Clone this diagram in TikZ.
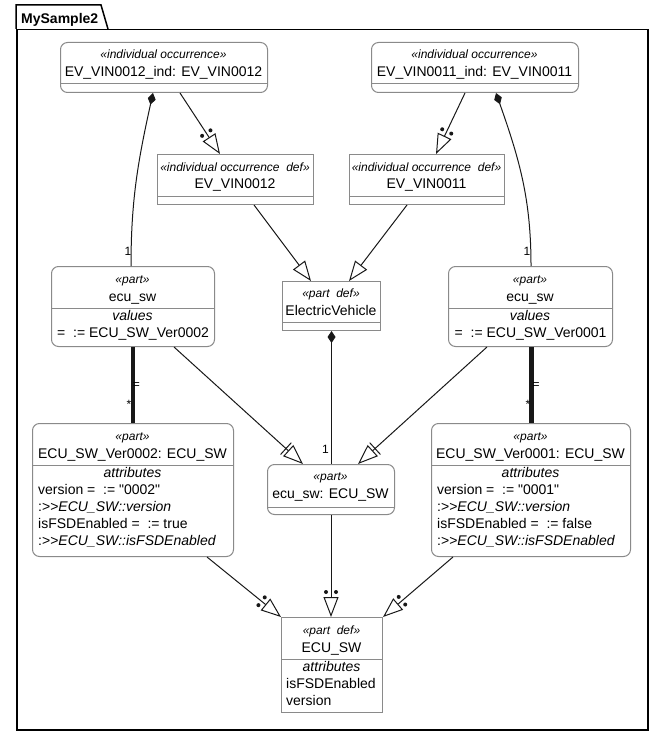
\documentclass[tikz,border=0pt]{standalone}
\usepackage{fontspec}
\newfontfamily\lsans{Liberation Sans}
\usetikzlibrary{arrows.meta,calc}
\definecolor{edgec}{HTML}{181818}
\definecolor{boxc}{HTML}{8A8A8A}
\newcommand\typeddots[2]{%
  \fill[edgec] ($(#2)!25pt!(#1)!5pt!90:(#1)$) circle (2pt);
  \fill[edgec] ($(#2)!25pt!(#1)!5pt!-90:(#1)$) circle (2pt);}
\newcommand\redefbar[2]{%
  \draw[edge] ($(#2)!23pt!(#1)!8pt!90:(#1)$) -- ($(#2)!23pt!(#1)!8pt!-90:(#1)$);}
\begin{document}
\begin{tikzpicture}[x=1pt,y=-1pt,font=\lsans,
  box/.style={draw=boxc, line width=1pt, fill=white, inner sep=0pt, anchor=north west},
  rbox/.style={box, rounded corners=7pt},
  st/.style={font=\lsans\fontsize{12}{14}\selectfont\itshape, anchor=base, inner sep=0pt},
  nm/.style={font=\lsans\fontsize{14}{17}\selectfont, anchor=base, inner sep=0pt},
  nmi/.style={nm, font=\lsans\fontsize{14}{17}\selectfont\itshape},
  ln/.style={nm, anchor=base west},
  lbl/.style={font=\lsans\fontsize{12}{14}\selectfont, anchor=base, inner sep=0pt},
  cline/.style={draw=boxc, line width=1pt},
  edge/.style={draw=edgec, line width=1pt},
  typed/.style={edge, -{Triangle[open,length=20pt,width=15pt]}},
  comp/.style={edge, {Diamond[length=12pt,width=8pt]}-},
  heavy/.style={draw=edgec, line width=4.6pt}]
\useasboundingbox (0,0) rectangle (662,735);

% package frame
\node[draw=black, line width=1.5pt, inner sep=0pt, anchor=north west,
      minimum width=631pt, minimum height=700pt] (frame) at (16,29) {};
\draw[line width=1.5pt] (frame.north west) -- ++(0,-24) -- ++(85,0) -- ++(7,24);
\node[font=\lsans\bfseries\fontsize{14}{17}\selectfont, anchor=base west, inner sep=0pt] (title) at (21,23.3) {MySample2};

% boxes
\node[rbox, minimum width=207pt, minimum height=50pt] (A) at (60,42) {};
\draw[cline] ($(A.north west)+(0,42)$) -- ($(A.north east)+(0,42)$);
\node[st] (A1) at (163.5,59) {«individual occurrence»};
\node[nm] (A2) at (163.5,77) {EV\_VIN0012\_ind: EV\_VIN0012};

\node[rbox, minimum width=207pt, minimum height=50pt] (B) at (371,42) {};
\draw[cline] ($(B.north west)+(0,42)$) -- ($(B.north east)+(0,42)$);
\node[st] (B1) at (474.5,59) {«individual occurrence»};
\node[nm] (B2) at (474.5,77) {EV\_VIN0011\_ind: EV\_VIN0011};

\node[box, minimum width=156pt, minimum height=50pt] (C) at (157,154) {};
\draw[cline] ($(C.north west)+(0,43)$) -- ($(C.north east)+(0,43)$);
\node[st] (C1) at (235,171.5) {«individual occurrence\ \ def»};
\node[nm] (C2) at (235,189) {EV\_VIN0012};

\node[box, minimum width=155pt, minimum height=50pt] (D) at (349,154) {};
\draw[cline] ($(D.north west)+(0,43)$) -- ($(D.north east)+(0,43)$);
\node[st] (D1) at (426.5,171.5) {«individual occurrence\ \ def»};
\node[nm] (D2) at (426.5,189) {EV\_VIN0011};

\node[rbox, minimum width=163pt, minimum height=80pt] (E) at (51,266) {};
\draw[cline] ($(E.north west)+(0,42)$) -- ($(E.north east)+(0,42)$);
\node[st] (E1) at (132.5,283) {«part»};
\node[nm] (E2) at (132.5,301) {ecu\_sw};
\node[nmi] (E3) at (132.5,320.5) {values};
\node[ln] (E4) at (57,337.5) {=\ \ := ECU\_SW\_Ver0002};

\node[box, minimum width=98pt, minimum height=49pt] (F) at (282,281) {};
\draw[cline] ($(F.north west)+(0,41)$) -- ($(F.north east)+(0,41)$);
\node[st] (F1) at (331,297) {«part\ \ def»};
\node[nm] (F2) at (331,315) {ElectricVehicle};

\node[rbox, minimum width=164pt, minimum height=80pt] (G) at (448,266) {};
\draw[cline] ($(G.north west)+(0,42)$) -- ($(G.north east)+(0,42)$);
\node[st] (G1) at (530,283) {«part»};
\node[nm] (G2) at (530,301) {ecu\_sw};
\node[nmi] (G3) at (530,320.5) {values};
\node[ln] (G4) at (454.5,337.5) {=\ \ := ECU\_SW\_Ver0001};

\node[rbox, minimum width=201pt, minimum height=133pt] (H) at (32,423) {};
\draw[cline] ($(H.north west)+(0,42)$) -- ($(H.north east)+(0,42)$);
\node[st] (H1) at (132.5,440) {«part»};
\node[nm] (H2) at (132.5,458) {ECU\_SW\_Ver0002: ECU\_SW};
\node[nmi] (H3) at (132.5,477.5) {attributes};
\node[ln] (H4) at (38,494.5) {version =\ \ := "0002"};
\node[ln] (H5) at (38,511.5) {:>>\textit{ECU\_SW::version}};
\node[ln] (H6) at (38,528.5) {isFSDEnabled =\ \ := true};
\node[ln] (H7) at (38,545.5) {:>>\textit{ECU\_SW::isFSDEnabled}};

\node[rbox, minimum width=199pt, minimum height=133pt] (I) at (431,423) {};
\draw[cline] ($(I.north west)+(0,42)$) -- ($(I.north east)+(0,42)$);
\node[st] (I1) at (530.5,440) {«part»};
\node[nm] (I2) at (530.5,458) {ECU\_SW\_Ver0001: ECU\_SW};
\node[nmi] (I3) at (530.5,477.5) {attributes};
\node[ln] (I4) at (437,494.5) {version =\ \ := "0001"};
\node[ln] (I5) at (437,511.5) {:>>\textit{ECU\_SW::version}};
\node[ln] (I6) at (437,528.5) {isFSDEnabled =\ \ := false};
\node[ln] (I7) at (437,545.5) {:>>\textit{ECU\_SW::isFSDEnabled}};

\node[rbox, minimum width=127pt, minimum height=50pt] (J) at (267,464) {};
\draw[cline] ($(J.north west)+(0,43)$) -- ($(J.north east)+(0,43)$);
\node[st] (J1) at (330.5,480.5) {«part»};
\node[nm] (J2) at (330.5,498.5) {ecu\_sw: ECU\_SW};

\node[box, minimum width=101pt, minimum height=95pt] (K) at (281,617) {};
\draw[cline] ($(K.north west)+(0,42)$) -- ($(K.north east)+(0,42)$);
\node[st] (K1) at (331.5,634) {«part\ \ def»};
\node[nm] (K2) at (331.5,652.5) {ECU\_SW};
\node[nmi] (K3) at (331.5,671.5) {attributes};
\node[ln] (K4) at (286,688.5) {isFSDEnabled};
\node[ln] (K5) at (286,705.5) {version};

% connector end points
\coordinate (a1) at ($(A.south west)+(93,0)$);
\coordinate (a2) at ($(A.south west)+(120,0)$);
\coordinate (b1) at ($(B.south west)+(94,0)$);
\coordinate (b2) at ($(B.south west)+(125,0)$);
\coordinate (c0) at ($(C.north west)+(63,0)$);
\coordinate (c1) at ($(C.south west)+(97,0)$);
\coordinate (d0) at ($(D.north west)+(87,0)$);
\coordinate (d1) at ($(D.south west)+(58,0)$);
\coordinate (e0) at ($(E.north west)+(80,0)$);
\coordinate (e1) at ($(E.south west)+(123,0)$);
\coordinate (f0) at ($(F.north west)+(29,0)$);
\coordinate (f1) at ($(F.north west)+(67,0)$);
\coordinate (g0) at ($(G.north west)+(83,0)$);
\coordinate (g1) at ($(G.south west)+(39,0)$);
\coordinate (j0) at ($(J.north west)+(36,0)$);
\coordinate (j1) at ($(J.north west)+(91,0)$);
\coordinate (j2) at (F.south |- J.north);
\coordinate (h1) at ($(H.south west)+(175,0)$);
\coordinate (i1) at ($(I.south west)+(22,0)$);
\coordinate (k1) at (J.south |- K.north);
\coordinate (gs) at ($(G.south)+(1,0)$);
\coordinate (it) at ($(I.north)+(0.5,0)$);

% compositions
\draw[comp] (a1) .. controls +(-15,68) and +(0,-66) .. (e0);
\draw[comp] (b2) .. controls +(24,68) and +(0,-66) .. (g0);
\draw[comp] (F.south) -- (j2);
\node[lbl] (m1) at (128,255) {1};
\node[lbl] (m2) at (527,255) {1};
\node[lbl] (m3) at (325.5,453) {1};

% feature typing
\draw[typed] (a2) -- (c0); \typeddots{a2}{c0}
\draw[typed] (b1) -- (d0); \typeddots{b1}{d0}
\draw[typed] (h1) -- (K.north west); \typeddots{h1}{K.north west}
\draw[typed] (J.south) -- (k1); \typeddots{J.south}{k1}
\draw[typed] (i1) -- (K.north east); \typeddots{i1}{K.north east}

% specialization
\draw[typed] (c1) -- (f0);
\draw[typed] (d1) -- (f1);

% redefinition
\draw[typed] (e1) -- (j0); \redefbar{e1}{j0}
\draw[typed] (g1) -- (j1); \redefbar{g1}{j1}

% binding (heavy)
\draw[heavy] (E.south) -- (H.north);
\draw[heavy] (gs) -- (it);
\node[lbl] (q1) at (136.5,388) {=};
\node[lbl] (s1) at (129,408) {*};
\node[lbl] (q2) at (536,388) {=};
\node[lbl] (s2) at (528,408) {*};
\end{tikzpicture}
\end{document}
